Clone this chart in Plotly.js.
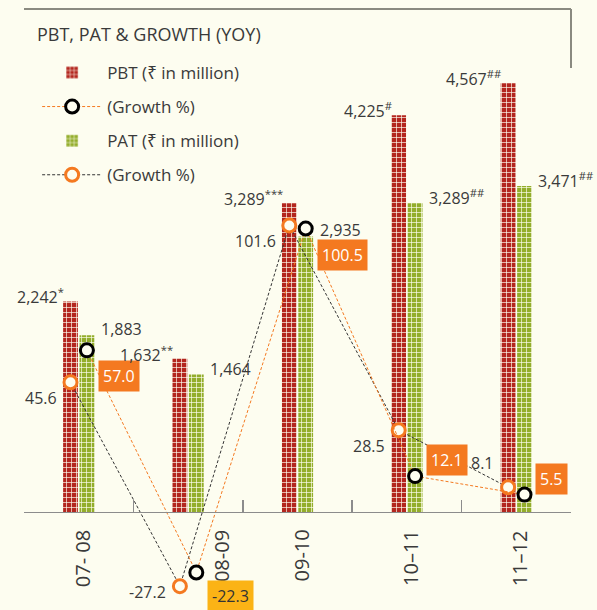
<!DOCTYPE html>
<html>
<head>
<meta charset="utf-8">
<script src="https://cdn.plot.ly/plotly-3.0.1.min.js"></script>
<style>html,body{margin:0;padding:0;background:#fdfdf0;}</style>
</head>
<body>
<div id="chart" style="width:597px;height:610px;"></div>
<script>
// ---- data ----
const cats = ['07- 08', '08-09', '09-10', '10–11', '11–12'];
const pbt = [2242, 1632, 3289, 4225, 4567];
const pat = [1883, 1464, 2935, 3289, 3471];
const pbtGrowth = [45.6, -27.2, 101.6, 28.5, 8.1];
const patGrowth = [57.0, -22.3, 100.5, 12.1, 5.5];
const pbtNotes = ['*', '**', '***', '#', '##'];
const patNotes = ['', '', '', '##', '##'];

// ---- style ----
const BG = '#fdfdf0';
const TXT = '#3a3a3a';
const ORANGE = '#f47920';
const AMBER = '#fbb316';
const FONT = 'Open Sans, Noto Sans, sans-serif';
const yRange = [-1044, 5453];
const y2Range = [-35.7, 182.1];

const fmt = v => v.toLocaleString('en-US');

const traces = [
  {
    type: 'bar', name: 'PBT (₹ in million)', x: cats, y: pbt,
    marker: {color: '#b3261e', line: {width: 0},
      pattern: {shape: '+', bgcolor: '#b3261e', fgcolor: BG, size: 5, solidity: 0.25}},
    legendrank: 1, legendgroup: 'a', hoverinfo: 'x+y'
  },
  {
    type: 'bar', name: 'PAT (₹ in million)', x: cats, y: pat,
    marker: {color: '#93ad2b', line: {width: 0},
      pattern: {shape: '+', bgcolor: '#93ad2b', fgcolor: BG, size: 5, solidity: 0.25}},
    legendrank: 3, legendgroup: 'c', hoverinfo: 'x+y'
  },
  {
    type: 'scatter', mode: 'lines+markers', name: '(Growth %)', x: cats, y: pbtGrowth, yaxis: 'y2',
    line: {color: '#333333', width: 1, dash: '3px,2px'},
    marker: {symbol: 'circle', size: 13, color: BG, line: {color: ORANGE, width: 3}},
    legendrank: 4, legendgroup: 'd'
  },
  {
    type: 'scatter', mode: 'lines+markers', name: '(Growth %)', x: cats, y: patGrowth, yaxis: 'y2',
    line: {color: ORANGE, width: 1, dash: '3px,2px'},
    marker: {symbol: 'circle', size: 13, color: BG, line: {color: '#000000', width: 3}},
    legendrank: 2, legendgroup: 'b'
  }
];

const annotations = [];
cats.forEach((c, i) => {
  // category label under the axis, nudged aside where the negative growth markers sit
  annotations.push({
    x: c, y: 0, xref: 'x', yref: 'y', showarrow: false,
    text: c, textangle: -90,
    xanchor: 'center', yanchor: 'top', yshift: -16,
    xshift: (pbtGrowth[i] < 0 || patGrowth[i] < 0) ? 34 : 4,
    font: {family: FONT, size: 20, color: TXT}
  });
  annotations.push({
    x: c, y: pbt[i], xref: 'x', yref: 'y', showarrow: false,
    text: fmt(pbt[i]) + (pbtNotes[i] ? '<sup>' + pbtNotes[i] + '</sup>' : ''),
    xanchor: 'right', yanchor: 'middle', xshift: -13, yshift: 5,
    font: {family: FONT, size: 16, color: TXT}
  });
  annotations.push({
    x: c, y: pat[i], xref: 'x', yref: 'y', showarrow: false,
    text: fmt(pat[i]) + (patNotes[i] ? '<sup>' + patNotes[i] + '</sup>' : ''),
    xanchor: 'left', yanchor: 'middle', xshift: 20, yshift: 6,
    font: {family: FONT, size: 16, color: TXT}
  });
  const gb = pbtGrowth[i];
  annotations.push({
    x: c, y: gb, xref: 'x', yref: 'y2', showarrow: false,
    text: gb.toFixed(1),
    xanchor: 'right', yanchor: 'middle', xshift: -20,
    yshift: gb < 0 ? -6 : (gb < 15 ? 24 : -16),
    font: {family: FONT, size: 16, color: TXT}
  });
  const ga = patGrowth[i];
  annotations.push({
    x: c, y: ga, xref: 'x', yref: 'y2', showarrow: false,
    text: ga.toFixed(1),
    xanchor: 'left', yanchor: 'middle', xshift: 19,
    yshift: ga < 0 ? -24 : (ga < 15 ? 16 : -26),
    bgcolor: ga < 0 ? AMBER : ORANGE, borderpad: 4,
    font: {family: FONT, size: 16, color: ga < 0 ? '#333333' : '#ffffff'}
  });
});

const layout = {
  width: 597, height: 610,
  paper_bgcolor: BG, plot_bgcolor: BG,
  margin: {l: 24, r: 26, t: 0, b: 0},
  font: {family: FONT, color: TXT},
  title: {
    text: 'PBT, PAT &amp; GROWTH (YOY)',
    x: 37 / 597, xref: 'container', xanchor: 'left',
    y: 1 - 35 / 610, yref: 'container', yanchor: 'middle',
    font: {family: FONT, size: 18, color: TXT}
  },
  barmode: 'group', bargap: 0.7, bargroupgap: 0.1,
  scattermode: 'group', scattergap: 0.7,
  showlegend: true,
  legend: {
    x: 0.024, y: 0.91, xanchor: 'left', yanchor: 'top',
    bgcolor: 'rgba(0,0,0,0)', traceorder: 'grouped', tracegroupgap: 9,
    itemwidth: 60,
    font: {family: FONT, size: 17, color: TXT}
  },
  xaxis: {
    type: 'category', categoryorder: 'array', categoryarray: cats,
    range: [-0.5, 4.5], anchor: 'free',
    position: (0 - yRange[0]) / (yRange[1] - yRange[0]),
    showline: true, linecolor: '#8c8c8c', linewidth: 1.5,
    ticks: 'inside', tickson: 'boundaries', ticklen: 12, tickcolor: '#8c8c8c', tickwidth: 1.5,
    showticklabels: false,
    showgrid: false, zeroline: false, automargin: false, fixedrange: true
  },
  yaxis: {range: yRange, visible: false, showgrid: false, zeroline: false, fixedrange: true},
  yaxis2: {range: y2Range, overlaying: 'y', visible: false, showgrid: false, zeroline: false, fixedrange: true},
  annotations: annotations,
  shapes: [
    {type: 'line', xref: 'paper', yref: 'paper', x0: 0, x1: 1, y0: 1 - 9 / 610, y1: 1 - 9 / 610,
     line: {color: '#8a8a80', width: 2}},
    {type: 'line', xref: 'paper', yref: 'paper', x0: 1, x1: 1, y0: 1 - 9 / 610, y1: 1 - 68 / 610,
     line: {color: '#8a8a80', width: 2}}
  ]
};

Plotly.newPlot('chart', traces, layout, {displayModeBar: false, staticPlot: true});
</script>
</body>
</html>
